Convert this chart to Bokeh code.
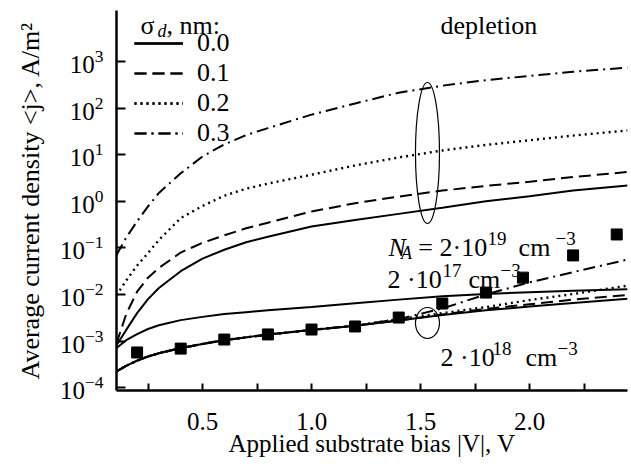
from bokeh.plotting import figure
from bokeh.models import (Range1d, FixedTicker, Label, Legend, LegendItem,
                          NumeralTickFormatter)
from bokeh.embed import file_html
from bokeh.resources import INLINE
import numpy as np

FONT = "Liberation Serif"

# ---------------- data ----------------
# applied substrate bias |V|, V
bias = [0.1055, 0.15, 0.2, 0.25, 0.3, 0.4, 0.5, 0.6, 0.7, 0.8,
        1.0, 1.2, 1.4, 1.6, 1.8, 2.0, 2.2, 2.45]

# log10 of average current density <j> (A/m^2)
# N_A = 2e19 cm^-3
na19_s00 = [-3.09, -2.76, -2.40, -2.10, -1.86, -1.50, -1.23, -1.04, -0.88, -0.76,
            -0.54, -0.40, -0.27, -0.14, 0.00, 0.11, 0.23, 0.34]
na19_s01 = [-3.05, -2.42, -1.94, -1.64, -1.43, -1.10, -0.89, -0.73, -0.58, -0.46,
            -0.22, -0.04, 0.10, 0.23, 0.33, 0.42, 0.52, 0.63]
na19_s02 = [-2.02, -1.70, -1.38, -1.11, -0.83, -0.36, -0.10, 0.12, 0.27, 0.38,
            0.57, 0.77, 0.94, 1.09, 1.21, 1.31, 1.41, 1.52]
na19_s03 = [-1.15, -0.78, -0.43, -0.11, 0.18, 0.60, 0.96, 1.22, 1.42, 1.57,
            1.86, 2.10, 2.33, 2.48, 2.60, 2.69, 2.78, 2.87]
# N_A = 2e17 cm^-3
na17_s00 = [-3.15, -2.98, -2.85, -2.74, -2.66, -2.55, -2.48, -2.42, -2.38, -2.34,
            -2.27, -2.19, -2.11, -2.04, -1.99, -1.95, -1.92, -1.89]
# N_A = 2e18 cm^-3
na18_s00 = [-3.65, -3.53, -3.42, -3.33, -3.26, -3.15, -3.06, -2.98, -2.92, -2.86,
            -2.76, -2.67, -2.56, -2.44, -2.34, -2.26, -2.18, -2.09]
na18_s01 = [-3.65, -3.53, -3.42, -3.33, -3.26, -3.15, -3.06, -2.98, -2.92, -2.86,
            -2.76, -2.67, -2.56, -2.43, -2.31, -2.21, -2.11, -2.01]
na18_s02 = [-3.65, -3.53, -3.42, -3.33, -3.26, -3.15, -3.06, -2.98, -2.92, -2.86,
            -2.76, -2.67, -2.53, -2.40, -2.27, -2.12, -1.99, -1.81]
na18_s03 = [-3.65, -3.53, -3.42, -3.33, -3.26, -3.15, -3.06, -2.98, -2.92, -2.86,
            -2.76, -2.67, -2.53, -2.30, -2.00, -1.74, -1.52, -1.25]

# experiment (squares)
exp_bias = [0.2, 0.4, 0.6, 0.8, 1.0, 1.2, 1.4, 1.6, 1.8, 1.97, 2.2, 2.4]
exp_j = [5.7e-4, 6.9e-4, 1.08e-3, 1.39e-3, 1.77e-3, 2.06e-3, 3.2e-3,
         6.4e-3, 1.10e-2, 2.3e-2, 6.9e-2, 0.194]

sigma_labels = ["0.0", "0.1", "0.2", "0.3"]
x_ticks = [0.5, 1.0, 1.5, 2.0]
x_minor = [0.25, 0.75, 1.25, 1.75, 2.25]
y_ticks = [1e-4, 1e-3, 1e-2, 1e-1, 1e0, 1e1, 1e2, 1e3]

# ---------------- figure ----------------
p = figure(width=631, height=468,
           x_range=Range1d(0.1055, 2.4495),
           y_range=Range1d(10 ** -4.06, 10 ** 4.094),
           y_axis_type="log",
           output_backend="svg", toolbar_location=None,
           min_border_left=116, min_border_right=4,
           min_border_top=10, min_border_bottom=78)
p.outline_line_color = None
p.grid.visible = False
p.background_fill_color = "white"
p.border_fill_color = "white"

xa = p.xaxis[0]
xa.ticker = FixedTicker(ticks=x_ticks, minor_ticks=x_minor)
xa.formatter = NumeralTickFormatter(format="0.0")
xa.axis_label = "Applied substrate bias |V|, V"
ya = p.yaxis[0]
ya.ticker = FixedTicker(ticks=y_ticks)
ya.axis_label = "Average current density <j>, A/m²"

for ax in (xa, ya):
    ax.axis_line_width = 2.5
    ax.axis_line_color = "black"
    ax.major_tick_out = 0
    ax.major_tick_line_width = 2
    ax.major_tick_line_color = "black"
    ax.minor_tick_out = 0
    ax.minor_tick_line_width = 2
    ax.major_label_text_font = FONT
    ax.major_label_text_font_size = "25px"
    ax.major_label_text_color = "black"
    ax.axis_label_text_font = FONT
    ax.axis_label_text_font_style = "normal"
    ax.axis_label_text_color = "black"

xa.axis_label_text_font_size = "25px"
ya.axis_label_text_font_size = "26px"
xa.major_tick_in = 7
xa.minor_tick_in = 7
xa.minor_tick_line_color = "black"
xa.major_label_standoff = 22
xa.axis_label_standoff = -3
ya.major_tick_in = 9
ya.minor_tick_line_color = None
ya.major_label_standoff = 13
ya.axis_label_standoff = 12

bx = np.array(bias)
styles = [("solid", 2.0), ("12 6", 2.0), ("2 4", 2.4), ("12 5 2 5", 2.0)]

def curve(vals, k):
    dash, w = styles[k]
    return p.line(bx, 10 ** np.array(vals), line_color="black",
                  line_width=w, line_dash=dash)

groups = [[], [], [], []]
for k, vals in enumerate([na19_s00, na19_s01, na19_s02, na19_s03]):
    groups[k].append(curve(vals, k))
groups[0].append(curve(na17_s00, 0))
for k, vals in enumerate([na18_s00, na18_s01, na18_s02, na18_s03]):
    groups[k].append(curve(vals, k))

p.scatter(exp_bias, exp_j, marker="square", size=11,
          fill_color="black", line_color="black")

# ellipses marking curve groups
p.ellipse(x=[1.532], y=[10 ** 1.036], width=24, height=141,
          width_units="screen", height_units="screen",
          fill_color=None, line_color="black", line_width=1.2)
p.ellipse(x=[1.532], y=[10 ** -2.612], width=24, height=31,
          width_units="screen", height_units="screen",
          fill_color=None, line_color="black", line_width=1.2)

legend = Legend(items=[LegendItem(label=lab, renderers=groups[k])
                       for k, lab in enumerate(sigma_labels)],
                location="top_left", margin=10, padding=8, spacing=0,
                glyph_width=49, glyph_height=20, label_height=20,
                label_standoff=14, label_text_font=FONT,
                label_text_font_size="26px", label_text_color="black",
                background_fill_alpha=0, border_line_alpha=0)
p.add_layout(legend)

def lab(text, x, ylog, size=26, style="normal"):
    p.add_layout(Label(x=x, y=10 ** ylog, text=text, text_font=FONT,
                       text_font_size=f"{size}px", text_font_style=style,
                       text_color="black", text_align="left",
                       text_baseline="alphabetic"))

# legend title  sigma_d, nm:
lab("σ", 0.2156, 3.773)
lab("d", 0.2936, 3.644, 18, "italic")
lab(", nm:", 0.3349, 3.773)
lab("depletion", 1.592, 3.773)
# N_A = 2*10^19 cm^-3
lab("N", 1.353, -0.991, 26, "italic")
lab("A", 1.410, -1.120, 18, "italic")
lab("= 2·10", 1.490, -0.991)
lab("19", 1.807, -0.798, 19)
lab("cm", 1.950, -0.991)
lab("−3", 2.119, -0.798, 19)
# 2*10^17 cm^-3
lab("2 ·10", 1.349, -1.678)
lab("17", 1.601, -1.485, 19)
lab("cm", 1.720, -1.678)
lab("−3", 1.867, -1.485, 19)
# 2*10^18 cm^-3
lab("2 ·10", 1.592, -3.352)
lab("18", 1.830, -3.159, 19)
lab("cm", 1.982, -3.352)
lab("−3", 2.128, -3.159, 19)

open("out.html", "w").write(file_html(p, INLINE))
